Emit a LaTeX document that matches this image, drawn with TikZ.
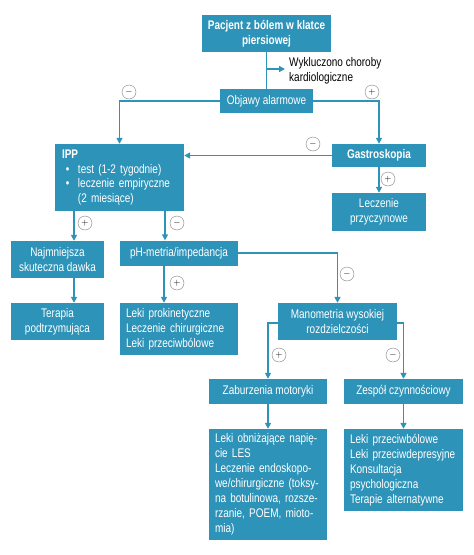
\documentclass[tikz,border=0pt]{standalone}
\usepackage{fontspec}
\setmainfont{Liberation Sans}[FakeStretch=0.8]
\usepackage{tikz}
\usetikzlibrary{arrows.meta}
\definecolor{boxblue}{RGB}{46,147,184}

\tikzset{
  box/.style={fill=boxblue, text=white, inner sep=0pt, align=center,
    font=\fontsize{12.5}{15}\selectfont},
  leftbox/.style={box, align=left},
  arr/.style={draw=boxblue, line width=1.6pt, -{Triangle[length=6pt,width=6pt]}},
  ln/.style={draw=boxblue, line width=1.6pt},
  sign/.style={circle, draw=gray, fill=white, minimum size=14pt, inner sep=0pt, font=\small}
}

\begin{document}
\begin{tikzpicture}[x=1pt,y=-1pt]
\useasboundingbox (0,0) rectangle (474,555);
% boxes
\node[box, minimum width=129, minimum height=37] (start) at (266.5,33.5) {\textbf{Pacjent z bólem w klatce}\\\textbf{piersiowej}};
\node[box, minimum width=93, minimum height=24] (alarm) at (266.5,101) {Objawy alarmowe};
\node[anchor=west, inner sep=2pt, align=left, font=\fontsize{12.5}{15}\selectfont] (wyk) at (287,70.8) {Wykluczono choroby\\kardiologiczne};
\node[leftbox, minimum width=129, minimum height=67, text width=115, font=\fontsize{12.5}{14.5}\selectfont] (ipp) at (119.5,177.5)
  {\textbf{IPP}\\\hspace*{4pt}\makebox[12pt][l]{\textbullet}test (1-2 tygodnie)\\\hspace*{4pt}\makebox[12pt][l]{\textbullet}leczenie empiryczne\\\hspace*{16pt}(2 miesiące)};
\node[box, minimum width=94, minimum height=23] (gastro) at (379,155.5) {\textbf{Gastroskopia}};
\node[box, minimum width=94, minimum height=38] (przycz) at (379,212) {Leczenie\\przyczynowe};
\node[box, minimum width=93, minimum height=37] (najm) at (57.5,259.5) {Najmniejsza\\skuteczna dawka};
\node[box, minimum width=118, minimum height=25] (ph) at (179,253) {pH-metria/impedancja};
\node[box, minimum width=93, minimum height=37] (terapia) at (57.5,321.5) {Terapia\\podtrzymująca};
\node[leftbox, minimum width=118, minimum height=52, text width=106] (leki1) at (179,329)
  {Leki prokinetyczne\\Leczenie chirurgiczne\\Leki przeciwbólowe};
\node[box, minimum width=119, minimum height=37] (mano) at (337.5,321.5) {Manometria wysokiej\\rozdzielczości};
\node[box, minimum width=118, minimum height=25] (zab) at (268,391.5) {Zaburzenia motoryki};
\node[box, minimum width=119, minimum height=25] (zesp) at (403.5,391.5) {Zespół czynnościowy};
\node[leftbox, minimum width=118, minimum height=111, text width=106] (leki2) at (268,484.5)
  {Leki obniżające napię-\\cie LES\\Leczenie endoskopo-\\we/chirurgiczne (toksy-\\na botulinowa, rozsze-\\rzanie, POEM, mioto-\\mia)};
\node[leftbox, minimum width=119, minimum height=82, text width=107] (leki3) at (403.5,470)
  {Leki przeciwbólowe\\Leki przeciwdepresyjne\\Konsultacja\\psychologiczna\\Terapie alternatywne};
% connectors
\coordinate (brk) at (266.5,69);
\draw[ln] (start) -- (alarm);
\draw[arr] (brk) -- ([xshift=-2pt]brk -| wyk.west);
\draw[arr] (alarm.west) -| (ipp.north);
\draw[arr] (alarm.east) -| (gastro.north);
\draw[arr] (gastro.west) -- (gastro.west -| ipp.east);
\draw[arr] (gastro) -- (przycz);
\draw[arr] ([xshift=16.5pt]najm.north |- ipp.south) -- ([xshift=16.5pt]najm.north);
\draw[arr] ([xshift=-14pt]ph.north |- ipp.south) -- ([xshift=-14pt]ph.north);
\draw[arr] ([xshift=16.5pt]najm.south) -- ([xshift=16.5pt]terapia.north);
\draw[arr] ([xshift=-15pt]ph.south) -- ([xshift=-15pt]leki1.north);
\draw[arr] (ph.east) -| (mano.north);
\draw[arr] ([yshift=-1.5pt]mano.west) -| (zab.north);
\draw[arr] ([yshift=-1.5pt]mano.east) -| (zesp.north);
\draw[arr] (zab) -- (leki2);
\draw[arr] (zesp) -- (leki3);
% signs
\node[sign] (s1) at (129,92) {$-$};
\node[sign] (s2) at (372,92) {$+$};
\node[sign] (s3) at (313,144) {$-$};
\node[sign] (s4) at (388,179) {$+$};
\node[sign] (s5) at (85,223) {$+$};
\node[sign] (s6) at (177,223) {$-$};
\node[sign] (s7) at (177,283) {$+$};
\node[sign] (s8) at (347,274) {$-$};
\node[sign] (s9) at (279,355) {$+$};
\node[sign] (s10) at (393,355) {$-$};
\end{tikzpicture}
\end{document}
